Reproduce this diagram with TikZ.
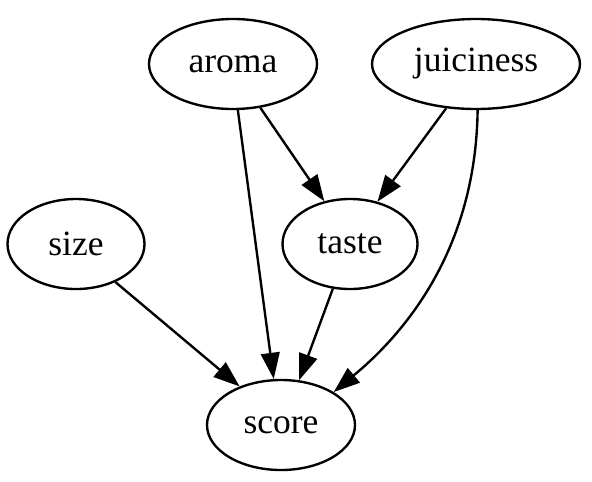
\documentclass[tikz,border=0pt]{standalone}
\usepackage{fontspec}
\setmainfont{Liberation Serif}
\usepackage{tikz}
\usetikzlibrary{positioning,calc,arrows.meta,shapes.geometric}

\begin{document}
\begin{tikzpicture}[x=0.4pt, y=-0.4pt, every node/.style={align=center, font=\fontsize{14.2}{16}\selectfont},
  vnode/.style={draw=black, line width=0.95pt, ellipse, inner sep=0pt, minimum height=36pt},
  dep/.style={draw=black, line width=0.95pt, -{Triangle[length=10.5pt, width=7.5pt]}}]
\useasboundingbox (0,0) rectangle (592,481);
\node[vnode, minimum width=67.2pt] (aroma) at (233,64) {aroma};
\node[vnode, minimum width=83.2pt] (juiciness) at (476,64) {juiciness};
\node[vnode, minimum width=54.8pt] (size) at (76,244) {size};
\node[vnode, minimum width=54pt] (taste) at (350,244) {taste};
\node[vnode, minimum width=59.2pt] (score) at (281,425) {score};
\draw[dep] (aroma.-84) -- (score.99);
\draw[dep] (aroma.-58) -- (taste.121);
\draw[dep] (juiciness.236) -- (taste.57);
\draw[dep] (juiciness.272) .. controls +(-2,150) and +(60,-50) .. (score.32);
\draw[dep] (size.-44) -- (score.137);
\draw[dep] (taste.249) -- (score.68);
\end{tikzpicture}
\end{document}
